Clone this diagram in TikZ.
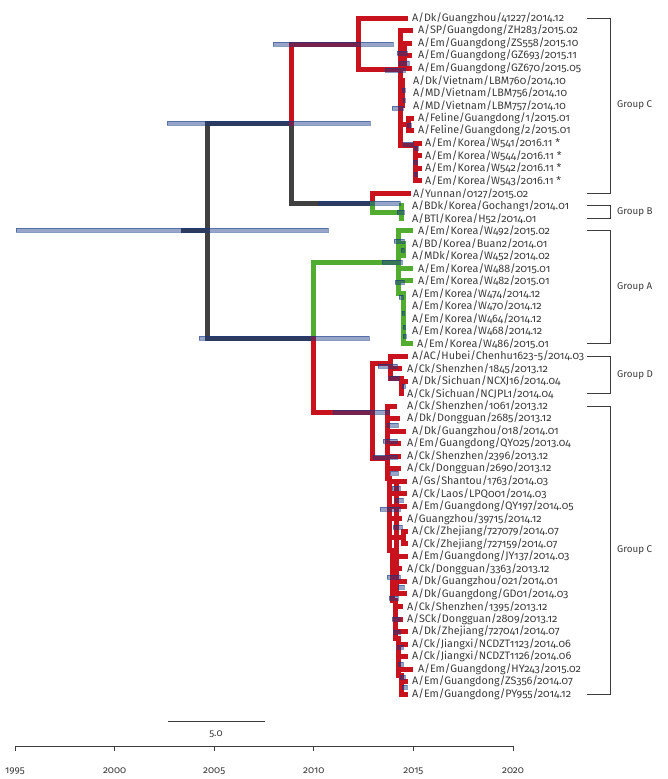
\documentclass[tikz,border=0pt]{standalone}
\usepackage{fontspec}
\setmainfont{Fira Sans}[Numbers=OldStyle]
\definecolor{tred}{RGB}{200,18,30}
\definecolor{tgreen}{RGB}{82,172,48}
\definecolor{tgrey}{RGB}{64,64,64}
\definecolor{hpdblue}{RGB}{22,55,133}
\definecolor{txtgrey}{RGB}{60,60,60}
\tikzset{
  br/.style={line width=5pt, line cap=rect, line join=miter},
  hpd/.style={fill=hpdblue, fill opacity=0.45, draw=hpdblue, draw opacity=0.5, line width=0.5pt},
  leaf/.style={anchor=west, inner sep=0pt, font=\fontsize{10.8}{12}\selectfont, text=txtgrey},
  grp/.style={anchor=west, inner sep=0pt, font=\fontsize{9.8}{11}\selectfont, text=txtgrey},
  ticklab/.style={inner sep=0pt, font=\fontsize{10}{11}\selectfont, text=txtgrey},
  rule/.style={draw=txtgrey, line width=0.9pt}
}
\begin{document}
\begin{tikzpicture}[x=1pt,y=-1pt]
\useasboundingbox (0,0) rectangle (667,779);
% backbone
\draw[br,tgrey] (183,230) -- (207,230);
\draw[br,tgrey] (207,123) -- (207,338);
\draw[br,tgrey] (207,123) -- (291,123) -- (291,203) -- (372,203);
\draw[br,tgrey] (207,338) -- (313,338);
\draw[br,tred] (291,123) -- (291,44) -- (358,44);
\draw[br,tgreen] (313,338) -- (313,262) -- (398,262);
\draw[br,tred] (313,338) -- (313,412) -- (372,412);
% upper group C
\draw[br,tred] (405,18) -- (358,18) -- (358,69) -- (400,69);
\draw[br,tred] (410,30.5) -- (400,30.5) -- (400,145) -- (415,145);
\draw[br,tred] (409,43) -- (404,43) -- (404,68.1) -- (409,68.1);
\draw[br,tred] (404,55.6) -- (409,55.6);
\draw[br,tred] (402,80.6) -- (402,105.6);
\draw[br,tred] (400,124.5) -- (408,124.5);
\draw[br,tred] (411,118.2) -- (408,118.2) -- (408,130.7) -- (411,130.7);
\draw[br,tred] (419,143.2) -- (415,143.2) -- (415,180.8) -- (419,180.8);
\draw[br,tred] (415,155.7) -- (419,155.7);
\draw[br,tred] (415,168.2) -- (419,168.2);
% Yunnan and group B
\draw[br,tred] (372,203) -- (372,193.3) -- (408,193.3);
\draw[br,tgreen] (372,203) -- (372,212) -- (401,212);
\draw[br,tgreen] (401,205.8) -- (401,218.3);
% group A
\draw[br,tgreen] (410,230.8) -- (398,230.8) -- (398,293.4) -- (403,293.4) -- (403,343.5) -- (410,343.5);
\draw[br,tgreen] (403,243.4) -- (403,255.9);
\draw[br,tgreen] (398,268.4) -- (410,268.4);
\draw[br,tgreen] (398,280.9) -- (410,280.9);
% group D
\draw[br,tred] (372,412) -- (372,363) -- (390,363);
\draw[br,tred] (405,356) -- (390,356) -- (390,378) -- (401,378) -- (401,393.6);
\draw[br,tred] (390,368.6) -- (399,368.6);
\draw[br,tred] (401,381.1) -- (405,381.1);
% lower group C
\draw[br,tred] (372,412) -- (372,458) -- (387,458);
\draw[br,tred] (387,406.1) -- (387,478) -- (389,478) -- (389,550) -- (392,550) -- (392,600) -- (395,600) -- (395,638) -- (398,638) -- (398,675) -- (401,675) -- (401,694.1);
\draw[br,tred] (396,481.2) -- (396,593.9);
\draw[br,tred] (387,406.1) -- (394,406.1);
\draw[br,tred] (387,418.6) -- (397,418.6);
\draw[br,tred] (387,431.2) -- (403,431.2);
\draw[br,tred] (387,443.7) -- (398,443.7);
\draw[br,tred] (387,456.2) -- (398,456.2);
\draw[br,tred] (387,468.7) -- (398,468.7);
\draw[br,tred] (389,481.2) -- (404,481.2);
\draw[br,tred] (389,493.8) -- (404,493.8);
\draw[br,tred] (389,506.3) -- (404,506.3);
\draw[br,tred] (389,518.8) -- (399,518.8);
\draw[br,tred] (389,537.5) -- (403,537.5);
\draw[br,tred] (405,531.3) -- (403,531.3) -- (403,543.8) -- (405,543.8);
\draw[br,tred] (392,556.4) -- (405,556.4);
\draw[br,tred] (392,568.9) -- (399,568.9);
\draw[br,tred] (392,581.4) -- (404,581.4);
\draw[br,tred] (392,593.9) -- (404,593.9);
\draw[br,tred] (395,606.4) -- (400,606.4);
\draw[br,tred] (395,619.0) -- (400,619.0);
\draw[br,tred] (395,631.5) -- (405,631.5);
\draw[br,tred] (398,644.0) -- (405,644.0);
\draw[br,tred] (398,656.5) -- (405,656.5);
\draw[br,tred] (398,669.0) -- (410,669.0);
\draw[br,tred] (401,681.6) -- (405,681.6);
\draw[br,tred] (401,694.1) -- (405,694.1);
% node bars
\draw[hpd] (16,228) rectangle (328,232);
\draw[hpd] (167,121) rectangle (370,125);
\draw[hpd] (273,42) rectangle (393,46);
\draw[hpd] (318,201) rectangle (400,205);
\draw[hpd] (199,336) rectangle (369,340);
\draw[hpd] (333,410) rectangle (389,414);
\draw[hpd] (382,260) rectangle (402,264);
\draw[hpd] (385,68) rectangle (405,72);
\draw[hpd] (397,51) rectangle (407,55);
\draw[hpd] (399,61) rectangle (409,65);
\draw[hpd] (402,88) rectangle (405,92);
\draw[hpd] (403,98) rectangle (405,102);
\draw[hpd] (392,106) rectangle (403,110);
\draw[hpd] (407,123) rectangle (411,127);
\draw[hpd] (403,142) rectangle (413,146);
\draw[hpd] (414,146) rectangle (418,150);
\draw[hpd] (413,160) rectangle (417,164);
\draw[hpd] (414,172) rectangle (417,176);
\draw[hpd] (397,210) rectangle (404,214);
\draw[hpd] (394,239) rectangle (404,243);
\draw[hpd] (401,248) rectangle (404,252);
\draw[hpd] (395,280) rectangle (404,284);
\draw[hpd] (399,295) rectangle (403,299);
\draw[hpd] (402,311) rectangle (404,315);
\draw[hpd] (403,325) rectangle (405,329);
\draw[hpd] (403,334) rectangle (406,338);
\draw[hpd] (378,364) rectangle (397,368);
\draw[hpd] (389,376) rectangle (399,380);
\draw[hpd] (402,384) rectangle (405,388);
\draw[hpd] (373,455) rectangle (397,459);
\draw[hpd] (387,423) rectangle (398,427);
\draw[hpd] (383,439) rectangle (397,443);
\draw[hpd] (390,471) rectangle (398,475);
\draw[hpd] (392,486) rectangle (400,490);
\draw[hpd] (395,498) rectangle (403,502);
\draw[hpd] (380,507) rectangle (400,511);
\draw[hpd] (393,525) rectangle (402,529);
\draw[hpd] (387,575) rectangle (400,579);
\draw[hpd] (398,585) rectangle (404,589);
\draw[hpd] (389,596) rectangle (398,600);
\draw[hpd] (392,617) rectangle (400,621);
\draw[hpd] (393,630) rectangle (400,634);
\draw[hpd] (397,645) rectangle (403,649);
\draw[hpd] (398,662) rectangle (403,666);
\draw[hpd] (400,675) rectangle (405,679);
\draw[hpd] (402,685) rectangle (407,689);
% tip labels
\node[leaf] (l1) at (412,18.0) {A/Dk/Guangzhou/41227/2014.12};
\node[leaf] (l2) at (418,30.5) {A/SP/Guangdong/ZH283/2015.02};
\node[leaf] (l3) at (418,43.0) {A/Em/Guangdong/ZS558/2015.10};
\node[leaf] (l4) at (418,55.6) {A/Em/Guangdong/GZ693/2015.11};
\node[leaf] (l5) at (418,68.1) {A/Em/Guangdong/GZ670/2015.05};
\node[leaf] (l6) at (413,80.6) {A/Dk/Vietnam/LBM760/2014.10};
\node[leaf] (l7) at (413,93.1) {A/MD/Vietnam/LBM756/2014.10};
\node[leaf] (l8) at (413,105.6) {A/MD/Vietnam/LBM757/2014.10};
\node[leaf] (l9) at (418,118.2) {A/Feline/Guangdong/1/2015.01};
\node[leaf] (l10) at (418,130.7) {A/Feline/Guangdong/2/2015.01};
\node[leaf] (l11) at (425,143.2) {A/Em/Korea/W541/2016.11 *};
\node[leaf] (l12) at (425,155.7) {A/Em/Korea/W544/2016.11 *};
\node[leaf] (l13) at (425,168.2) {A/Em/Korea/W542/2016.11 *};
\node[leaf] (l14) at (425,180.8) {A/Em/Korea/W543/2016.11 *};
\node[leaf] (l15) at (413,193.3) {A/Yunnan/0127/2015.02};
\node[leaf] (l16) at (412,205.8) {A/BDk/Korea/Gochang1/2014.01};
\node[leaf] (l17) at (412,218.3) {A/BTl/Korea/H52/2014.01};
\node[leaf] (l18) at (418,230.8) {A/Em/Korea/W492/2015.02};
\node[leaf] (l19) at (412,243.4) {A/BD/Korea/Buan2/2014.01};
\node[leaf] (l20) at (412,255.9) {A/MDk/Korea/W452/2014.02};
\node[leaf] (l21) at (418,268.4) {A/Em/Korea/W488/2015.01};
\node[leaf] (l22) at (418,280.9) {A/Em/Korea/W482/2015.01};
\node[leaf] (l23) at (412,293.4) {A/Em/Korea/W474/2014.12};
\node[leaf] (l24) at (412,306.0) {A/Em/Korea/W470/2014.12};
\node[leaf] (l25) at (412,318.5) {A/Em/Korea/W464/2014.12};
\node[leaf] (l26) at (412,331.0) {A/Em/Korea/W468/2014.12};
\node[leaf] (l27) at (417,343.5) {A/Em/Korea/W486/2015.01};
\node[leaf] (l28) at (412,356.0) {A/AC/Hubei/Chenhu1623-5/2014.03};
\node[leaf] (l29) at (407,368.6) {A/Ck/Shenzhen/1845/2013.12};
\node[leaf] (l30) at (412,381.1) {A/Dk/Sichuan/NCXJ16/2014.04};
\node[leaf] (l31) at (407,393.6) {A/Ck/Sichuan/NCJPL1/2014.04};
\node[leaf] (l32) at (407,406.1) {A/Ck/Shenzhen/1061/2013.12};
\node[leaf] (l33) at (407,418.6) {A/Dk/Dongguan/2685/2013.12};
\node[leaf] (l34) at (412,431.2) {A/Dk/Guangzhou/018/2014.01};
\node[leaf] (l35) at (407,443.7) {A/Em/Guangdong/QY025/2013.04};
\node[leaf] (l36) at (407,456.2) {A/Ck/Shenzhen/2396/2013.12};
\node[leaf] (l37) at (407,468.7) {A/Ck/Dongguan/2690/2013.12};
\node[leaf] (l38) at (412,481.2) {A/Gs/Shantou/1763/2014.03};
\node[leaf] (l39) at (412,493.8) {A/Ck/Laos/LPQ001/2014.03};
\node[leaf] (l40) at (412,506.3) {A/Em/Guangdong/QY197/2014.05};
\node[leaf] (l41) at (407,518.8) {A/Guangzhou/39715/2014.12};
\node[leaf] (l42) at (412,531.3) {A/Ck/Zhejiang/727079/2014.07};
\node[leaf] (l43) at (412,543.8) {A/Ck/Zhejiang/727159/2014.07};
\node[leaf] (l44) at (412,556.4) {A/Em/Guangdong/JY137/2014.03};
\node[leaf] (l45) at (407,568.9) {A/Ck/Dongguan/3363/2013.12};
\node[leaf] (l46) at (412,581.4) {A/Dk/Guangzhou/021/2014.01};
\node[leaf] (l47) at (412,593.9) {A/Dk/Guangdong/GD01/2014.03};
\node[leaf] (l48) at (407,606.4) {A/Ck/Shenzhen/1395/2013.12};
\node[leaf] (l49) at (407,619.0) {A/SCk/Dongguan/2809/2013.12};
\node[leaf] (l50) at (412,631.5) {A/Dk/Zhejiang/727041/2014.07};
\node[leaf] (l51) at (412,644.0) {A/Ck/Jiangxi/NCDZT1123/2014.06};
\node[leaf] (l52) at (412,656.5) {A/Ck/Jiangxi/NCDZT1126/2014.06};
\node[leaf] (l53) at (418,669.0) {A/Em/Guangdong/HY243/2015.02};
\node[leaf] (l54) at (412,681.6) {A/Em/Guangdong/ZS356/2014.07};
\node[leaf] (l55) at (412,694.1) {A/Em/Guangdong/PY955/2014.12};
% groups
\draw[rule] (587,18) -- (610,18) -- (610,193.3) -- (587,193.3);
\node[grp] (gC1) at (617,105.6) {Group C};
\draw[rule] (587,205.8) -- (610,205.8) -- (610,218.3) -- (587,218.3);
\node[grp] (gB) at (617,212) {Group B};
\draw[rule] (587,230.8) -- (610,230.8) -- (610,343.5) -- (587,343.5);
\node[grp] (gA) at (617,287.2) {Group A};
\draw[rule] (587,356) -- (610,356) -- (610,393.6) -- (587,393.6);
\node[grp] (gD) at (617,374.8) {Group D};
\draw[rule] (587,406.1) -- (610,406.1) -- (610,694.1) -- (587,694.1);
\node[grp] (gC2) at (617,550.1) {Group C};
% scale bar and time axis
\draw[rule] (168,721) -- (265,721);
\node[ticklab] (sc) at (216,734) {5.0};
\draw[rule] (15,746) -- (513,746);
\draw[rule] (15,746) -- (15,751);
\draw[rule] (114.6,746) -- (114.6,751);
\draw[rule] (214.2,746) -- (214.2,751);
\draw[rule] (313.8,746) -- (313.8,751);
\draw[rule] (413.4,746) -- (413.4,751);
\draw[rule] (513,746) -- (513,751);
\node[ticklab] (t1995) at (15,771) {1995};
\node[ticklab] (t2000) at (114.6,771) {2000};
\node[ticklab] (t2005) at (214.2,771) {2005};
\node[ticklab] (t2010) at (313.8,771) {2010};
\node[ticklab] (t2015) at (413.4,771) {2015};
\node[ticklab] (t2020) at (513,771) {2020};
\end{tikzpicture}
\end{document}
